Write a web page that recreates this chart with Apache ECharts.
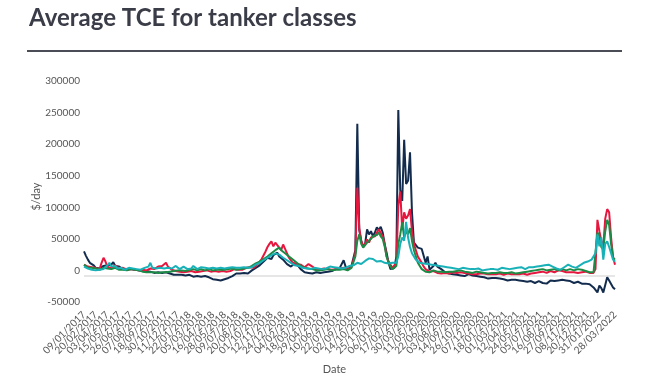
<!DOCTYPE html>
<html><head><meta charset="utf-8">
<script src="https://cdn.jsdelivr.net/npm/echarts@6/dist/echarts.min.js"></script>
<style>html,body{margin:0;padding:0;background:#fff}#c{width:670px;height:380px}</style>
</head><body><div id="c"></div>
<script>
// weekly observations starting 09/01/2017 (273 weeks, last 28/03/2022)
const startDate = [2017, 0, 9];
const pointCount = 273;
const unit = 1000; // values below are in thousands of $/day

const seriesNames = ['Series 1', 'Series 2', 'Series 3', 'Series 4'];
const seriesColors = ['#132c4d', '#e5173f', '#1d8a45', '#19b1b8'];

const navy = [
  38,31,25,20,18,16,12,14,11,13,
  15,12,16,18,17,21,15,13,14,12,
  10,11,9,12,10,8,9,11,8,7,
  8,6,7,5,6,5,4,6,5,3,
  4,3,5,2,3,2,1,3,1,0,
  1,-1,0,-2,1,-1,-2,0,-1,-3,
  -2,-3,-1,-4,-3,-5,-6,-4,-7,-6,
  -8,-5,-6,-3,-4,-2,-1,1,3,2,
  3,1,4,5,3,6,8,10,12,14,
  16,19,22,25,28,30,26,32,34,36,
  30,27,25,22,18,15,14,16,19,20,
  14,10,7,5,6,4,5,3,6,5,
  6,4,7,5,8,6,9,7,8,10,
  9,12,10,24,14,9,12,15,18,40,
  240,72,55,46,50,73,65,70,62,68,
  76,72,77,68,50,36,20,10,8,12,
  30,262,135,118,215,145,150,195,100,52,
  48,44,46,42,40,20,30,9,12,15,
  20,14,17,10,8,5,6,3,4,2,
  3,1,2,0,1,-1,0,2,-1,0,
  -2,-1,-3,-2,-4,-3,-2,-5,-3,-4,
  -5,-4,-6,-5,-7,-6,-5,-8,-6,-7,
  -8,-7,-9,-8,-10,-9,-8,-10,-11,-9,
  -10,-12,-11,-9,-10,-12,-11,-13,-10,-8,
  -7,-9,-6,-8,-6,-7,-9,-8,-10,-9,
  -10,-12,-11,-10,-12,-13,-12,-13,-15,-14,
  -17,-19,-18,-27,-16,-20,-27,-15,-3,-8,
  -11,-19,-22
];
const red = [
  17,18,14,12,13,11,12,15,10,20,
  28,22,14,13,11,12,16,15,11,10,
  12,10,9,11,10,12,9,10,8,11,
  9,10,8,9,11,8,10,12,14,17,
  15,18,20,14,11,9,8,7,9,6,
  7,5,8,6,5,7,6,5,4,6,
  5,7,6,8,5,6,9,7,5,6,
  5,7,8,6,9,7,8,10,8,9,
  11,9,10,12,11,13,14,12,15,18,
  22,26,32,38,45,50,54,46,52,48,
  44,40,49,42,35,28,24,20,22,18,
  16,17,15,13,14,18,20,14,11,9,
  8,10,9,11,8,10,12,9,11,10,
  9,11,10,12,9,10,11,13,16,35,
  139,75,55,45,50,57,52,60,58,62,
  65,73,70,62,50,30,22,17,12,10,
  20,110,133,73,100,90,95,105,70,50,
  40,30,25,20,14,10,8,6,5,7,
  6,4,5,3,5,4,6,3,4,5,
  3,4,2,5,3,4,2,3,4,2,
  3,2,4,3,2,3,1,2,3,2,
  3,2,1,3,2,1,2,3,1,2,
  1,2,0,2,1,3,2,1,2,3,
  2,4,3,5,4,6,5,4,6,7,
  6,5,7,8,8,7,6,5,6,5,
  4,5,3,4,3,5,4,6,5,4,
  5,4,10,88,70,55,46,90,105,100,
  60,30,17
];
const green = [
  17,14,12,11,12,10,11,12,9,11,
  12,10,11,13,10,11,12,10,9,10,
  9,10,8,9,10,8,9,7,8,7,
  6,7,5,6,5,4,5,6,4,5,
  5,6,5,4,6,5,7,6,8,7,
  8,9,7,8,9,8,10,9,8,9,
  10,9,8,9,10,9,8,10,9,8,
  9,10,9,8,10,9,11,10,9,11,
  10,12,11,13,12,14,15,17,19,20,
  22,24,26,28,30,32,35,38,40,42,
  44,40,37,35,33,30,28,25,22,20,
  18,15,14,12,13,11,9,10,9,8,
  9,8,10,9,8,10,9,8,10,9,
  8,9,8,10,9,8,10,12,15,30,
  55,65,50,44,46,52,55,58,62,60,
  64,68,62,58,46,30,20,14,10,9,
  15,50,65,84,60,70,65,75,55,40,
  30,20,15,10,8,6,7,5,6,8,
  7,6,8,6,7,5,8,6,7,6,
  5,7,6,8,5,6,7,5,6,4,
  5,6,4,5,6,4,5,3,5,4,
  5,4,6,5,3,4,5,4,3,5,
  4,3,5,4,6,5,4,6,5,7,
  6,8,7,9,8,10,9,8,10,9,
  8,10,9,8,9,10,9,8,9,10,
  9,8,9,10,8,9,8,7,6,5,
  4,5,8,68,62,45,41,70,88,80,
  50,28,25
];
const cyan = [
  14,12,11,10,9,10,8,10,9,11,
  10,12,16,20,14,12,15,11,10,12,
  11,9,10,12,10,11,9,10,11,9,
  10,12,11,14,20,12,9,11,10,12,
  13,11,10,12,14,11,10,15,12,10,
  11,14,12,10,13,11,15,12,10,11,
  13,10,12,14,11,10,12,9,11,13,
  12,14,11,10,12,11,13,10,12,11,
  12,10,13,11,12,14,13,15,17,19,
  20,22,24,26,28,30,32,34,35,36,
  33,30,28,26,24,22,20,18,16,17,
  15,14,12,13,11,12,10,11,12,10,
  11,12,10,13,11,12,14,12,13,11,
  12,13,11,14,12,13,15,14,16,18,
  20,22,18,21,23,25,27,30,26,24,
  22,25,23,21,20,22,19,18,20,19,
  20,30,50,60,55,85,60,45,35,30,
  25,22,20,18,19,17,18,16,17,18,
  16,17,15,16,14,15,13,14,12,13,
  11,12,10,11,12,10,11,9,10,11,
  10,9,11,10,8,10,9,11,10,9,
  10,11,9,10,12,10,11,9,10,12,
  11,10,12,11,13,12,10,12,13,14,
  13,15,14,16,15,17,16,18,17,15,
  14,12,11,10,9,11,13,15,17,16,
  14,13,12,14,16,18,20,19,22,23,
  25,27,35,65,46,60,25,50,54,45,
  35,25,22
];
const yTicks = { min: -50000, max: 300000, interval: 50000 };
const labelStep = 6;

function pad(n) { return (n < 10 ? '0' : '') + n; }
const dates = [];
for (let i = 0; i < pointCount; i++) {
  const d = new Date(Date.UTC(startDate[0], startDate[1], startDate[2] + 7 * i));
  dates.push(pad(d.getUTCDate()) + '/' + pad(d.getUTCMonth() + 1) + '/' + d.getUTCFullYear());
}
const lastIdx = pointCount - 1;
function showLabel(idx) {
  if (idx === lastIdx) return true;
  return idx % labelStep === 0 && lastIdx - idx >= labelStep;
}

const allData = [navy, red, green, cyan];
const font = 'Lato, "Open Sans", sans-serif';
const labelStyle = { rotate: 45, fontSize: 10, color: '#555', fontFamily: font, margin: 6 };
function xAxisBase(intervalFn, extra) {
  return Object.assign({
    type: 'category', data: dates, boundaryGap: false, gridIndex: 0, position: 'bottom',
    axisLine: { show: false }, axisTick: { show: false }, splitLine: { show: false },
    axisLabel: Object.assign({ interval: intervalFn }, labelStyle, extra)
  });
}
const xMain = xAxisBase(function (idx) { return showLabel(idx) && idx !== labelStep; },
  { showMinLabel: true, showMaxLabel: true });
xMain.name = 'Date';
xMain.nameLocation = 'middle';
xMain.nameGap = 57;
xMain.nameMoveOverlap = false;
xMain.nameTextStyle = { fontSize: 11, color: '#555', fontFamily: font, padding: [0, 30, 0, 0] };
const xSecond = xAxisBase(function (idx) { return idx === labelStep; },
  { showMinLabel: false, showMaxLabel: false });

const chart = echarts.init(document.getElementById('c'), null, { renderer: 'canvas' });
chart.setOption({
  animation: false,
  backgroundColor: '#fff',
  title: {
    text: 'Average TCE for tanker classes',
    left: 24, top: 1,
    textStyle: { fontFamily: font, fontWeight: 'bold', fontSize: 24, color: '#3a3c47' }
  },
  graphic: [{
    type: 'line', shape: { x1: 27, y1: 51, x2: 622, y2: 51 },
    style: { stroke: '#4a4c56', lineWidth: 2 }, silent: true
  }],
  grid: { left: 84, right: 55, top: 86, bottom: 72, containLabel: false },
  xAxis: [xMain, xSecond],
  yAxis: {
    type: 'value', min: yTicks.min, max: yTicks.max, interval: yTicks.interval,
    splitLine: { show: false }, axisLine: { show: false }, axisTick: { show: false },
    axisLabel: {
      fontSize: 10, color: '#555', fontFamily: font, margin: 4, verticalAlign: 'bottom',
      formatter: function (v) { return String(v); }
    },
    name: '$/day', nameLocation: 'middle', nameGap: 42, nameMoveOverlap: false,
    nameTextStyle: { fontSize: 11, color: '#555', fontFamily: font }
  },
  series: allData.map((arr, k) => ({
    name: seriesNames[k], type: 'line', data: arr.map(v => v * unit),
    xAxisIndex: 0, yAxisIndex: 0,
    showSymbol: false, symbol: 'none',
    lineStyle: { width: 2, color: seriesColors[k] }, itemStyle: { color: seriesColors[k] },
    z: 2 + k,
    markLine: k === 0 ? {
      silent: true, symbol: 'none', label: { show: false },
      lineStyle: { color: '#e6e6e6', width: 2, type: 'solid' },
      data: [{ yAxis: 0 }], z: 1
    } : undefined
  }))
});
</script></body></html>
